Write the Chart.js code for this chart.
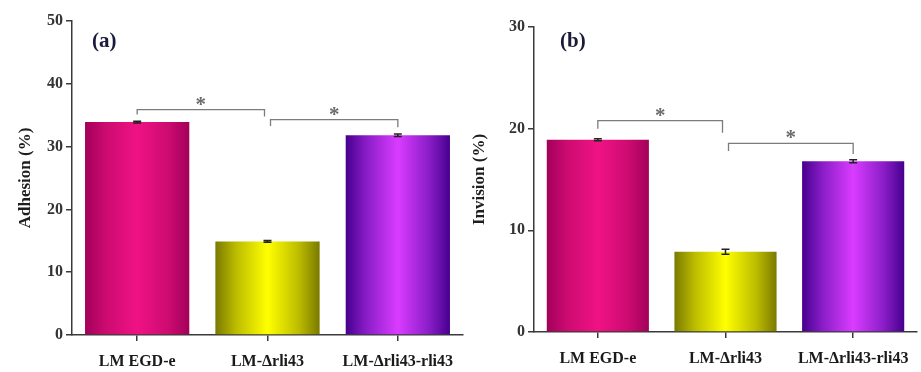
<!DOCTYPE html>
<html><head><meta charset="utf-8">
<script src="https://cdn.jsdelivr.net/npm/chart.js@4.4.1/dist/chart.umd.min.js"></script>
<style>
body{margin:0;background:#fff;width:921px;height:372px;overflow:hidden;position:relative}
canvas{position:absolute;top:0}
</style></head>
<body>
<canvas id="ca" width="465" height="372" style="left:0"></canvas>
<canvas id="cb" width="459" height="372" style="left:462px"></canvas>
<script>
const categories = ['LM EGD-e', 'LM-Δrli43', 'LM-Δrli43-rli43'];
const adhesionValues = [33.9, 14.9, 31.8];
const adhesionErrors = [0.15, 0.15, 0.2];
const invasionValues = [18.9, 7.9, 16.8];
const invasionErrors = [0.1, 0.25, 0.15];
const adhesionTicks = [0, 10, 20, 30, 40, 50];
const invasionTicks = [0, 10, 20, 30];
const adhesionBrackets = [
  {from: 0, to: 1, top: 35.9, leftEnd: 35.1, rightEnd: 34.8, label: '*'},
  {from: 1, to: 2, top: 34.3, leftEnd: 33.3, rightEnd: 33.1, label: '*'}
];
const invasionBrackets = [
  {from: 0, to: 1, top: 20.8, leftEnd: 20.0, rightEnd: 19.6, label: '*'},
  {from: 1, to: 2, top: 18.55, leftEnd: 17.8, rightEnd: 17.5, label: '*'}
];
const darkColors = ['#a3005a', '#7a7a00', '#46008e'];
const midColors = ['#cc0b70', '#bcbc00', '#8a1dc8'];
const brightColors = ['#f01284', '#ffff00', '#da3cff'];

const SERIF = '"Liberation Serif", "Times New Roman", serif';

function barFill(ctx) {
  const i = ctx.dataIndex || 0;
  const chart = ctx.chart;
  const xs = chart.scales && chart.scales.x;
  if (!xs || !(xs.width > 0)) return brightColors[i];
  const cx = xs.getPixelForValue(i);
  const half = xs.width / xs.getLabels().length * 0.8 / 2;
  const g = chart.ctx.createLinearGradient(cx - half, 0, cx + half, 0);
  g.addColorStop(0, darkColors[i]);
  g.addColorStop(0.2, midColors[i]);
  g.addColorStop(0.5, brightColors[i]);
  g.addColorStop(0.8, midColors[i]);
  g.addColorStop(1, darkColors[i]);
  return g;
}

const overlay = {
  id: 'overlay',
  afterDatasetsDraw(chart, args, opts) {
    const {ctx} = chart;
    const x = chart.scales.x, y = chart.scales.y;
    const vals = chart.data.datasets[0].data;
    ctx.save();
    // error bars
    ctx.strokeStyle = '#222';
    ctx.lineWidth = 1.5;
    opts.errors.forEach((e, i) => {
      const bx = x.getPixelForValue(i);
      const yt = y.getPixelForValue(vals[i] + e);
      const yb = y.getPixelForValue(vals[i] - e);
      ctx.beginPath();
      ctx.moveTo(bx, yt); ctx.lineTo(bx, yb);
      ctx.moveTo(bx - 4, yt); ctx.lineTo(bx + 4, yt);
      ctx.moveTo(bx - 4, yb); ctx.lineTo(bx + 4, yb);
      ctx.stroke();
    });
    // significance brackets
    ctx.strokeStyle = '#7c7c7c';
    ctx.fillStyle = '#6a6a6a';
    ctx.lineWidth = 1.3;
    ctx.font = 'bold 21px ' + SERIF;
    ctx.textAlign = 'center';
    ctx.textBaseline = 'alphabetic';
    opts.brackets.forEach((b, k) => {
      const x1 = x.getPixelForValue(b.from) + (k > 0 ? 3 : 0);
      const x2 = x.getPixelForValue(b.to) - (k === 0 ? 3 : 0);
      const yt = y.getPixelForValue(b.top);
      ctx.beginPath();
      ctx.moveTo(x1, y.getPixelForValue(b.leftEnd));
      ctx.lineTo(x1, yt);
      ctx.lineTo(x2, yt);
      ctx.lineTo(x2, y.getPixelForValue(b.rightEnd));
      ctx.stroke();
      ctx.fillText(b.label, (x1 + x2) / 2, yt + 1);
    });
    // panel label
    ctx.fillStyle = '#1a1a3a';
    ctx.font = 'bold 21px ' + SERIF;
    ctx.textAlign = 'left';
    ctx.textBaseline = 'middle';
    ctx.fillText(opts.panel, chart.chartArea.left + opts.panelDx, chart.chartArea.top + opts.panelDy);
    ctx.restore();
  }
};

function makeChart(id, values, errors, ticks, brackets, title, panel, cfg) {
  const axisColor = '#3a3a3a';
  return new Chart(document.getElementById(id), {
    type: 'bar',
    data: {
      labels: categories,
      datasets: [{
        data: values,
        backgroundColor: barFill,
        borderWidth: 0,
        categoryPercentage: 0.8,
        barPercentage: 1.0
      }]
    },
    options: {
      responsive: false,
      animation: false,
      layout: {padding: {top: cfg.top, right: cfg.right, left: 0, bottom: 0}},
      plugins: {
        legend: {display: false},
        tooltip: {enabled: false},
        overlay: {errors: errors, brackets: brackets, panel: panel, panelDx: cfg.panelDx, panelDy: cfg.panelDy}
      },
      scales: {
        x: {
          grid: {offset: false, drawOnChartArea: false, drawTicks: true, tickLength: 6, color: axisColor, lineWidth: 1.5},
          border: {color: axisColor, width: 1.5},
          ticks: {font: {family: SERIF, size: 16, weight: 'bold'}, color: '#1a1a1a', padding: 11, maxRotation: 0, autoSkip: false},
          afterFit(s) { s.height = cfg.xHeight; }
        },
        y: {
          min: ticks[0],
          max: ticks[ticks.length - 1],
          afterBuildTicks(s) { s.ticks = ticks.map(v => ({value: v})); },
          grid: {drawOnChartArea: false, drawTicks: true, tickLength: 6, color: axisColor, lineWidth: 1.5},
          border: {color: axisColor, width: 1.5},
          ticks: {font: {family: SERIF, size: 16, weight: 'bold'}, color: '#333', padding: 3},
          title: {display: true, text: title, font: {family: SERIF, size: 17, weight: 'bold'}, color: '#1e1e1e', padding: {top: cfg.titlePad, bottom: 0}},
          afterFit(s) { s.width = 72; }
        }
      }
    },
    plugins: [overlay]
  });
}

makeChart('ca', adhesionValues, adhesionErrors, adhesionTicks, adhesionBrackets, 'Adhesion (%)', '(a)',
  {top: 21, right: 2, xHeight: 37, titlePad: 15, panelDx: 20, panelDy: 21});
makeChart('cb', invasionValues, invasionErrors, invasionTicks, invasionBrackets, 'Invision (%)', '(b)',
  {top: 27, right: 4, xHeight: 40, titlePad: 7, panelDx: 26, panelDy: 15});
</script>
</body></html>
